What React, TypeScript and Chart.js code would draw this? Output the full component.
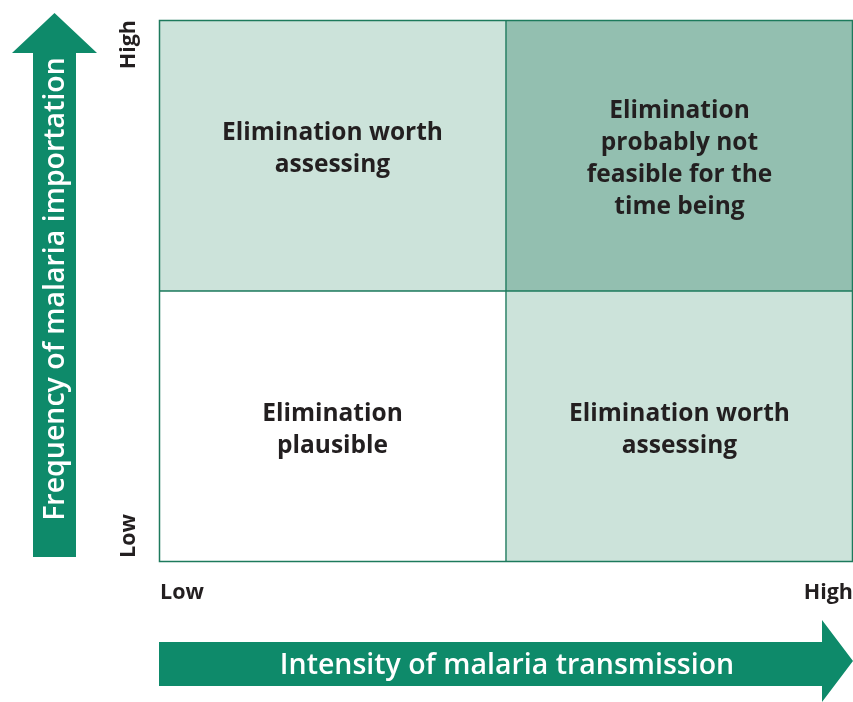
import React, { useEffect, useRef } from "react";
import { Chart, registerables } from "chart.js";

Chart.register(...registerables);

// Data
const transmissionLevels = ["Low", "High"]; // x categories (intensity of malaria transmission)
const importationLevels = ["Low", "High"]; // y levels (frequency of malaria importation)
const lowImportationRow = [1, 1];
const highImportationRow = [1, 1];
const lowRowColors = ["#ffffff", "#cce3da"];
const highRowColors = ["#cce3da", "#93bfb0"];
const lowRowLabels = [
  ["Elimination", "plausible"],
  ["Elimination worth", "assessing"],
];
const highRowLabels = [
  ["Elimination worth", "assessing"],
  ["Elimination", "probably not", "feasible for the", "time being"],
];
const xAxisTitle = "Intensity of malaria transmission";
const yAxisTitle = "Frequency of malaria importation";

const ARROW = "#0e8a6a";
const BORDER = "#1d7a5c";
const TEXT = "#231f20";
const FONT = "'Open Sans', 'DejaVu Sans', sans-serif";

const overlayPlugin = {
  id: "matrixOverlay",
  afterDatasetsDraw(chart: any) {
    const ctx = chart.ctx;
    const xs = chart.scales.x;
    const ys = chart.scales.y;
    const area = chart.chartArea;
    ctx.save();
    // quadrant labels
    ctx.fillStyle = TEXT;
    ctx.font = `700 24.5px ${FONT}`;
    ctx.textAlign = "center";
    ctx.textBaseline = "middle";
    const lh = 32;
    const rows = [
      { labels: lowRowLabels, y: ys.getPixelForValue(0.5) },
      { labels: highRowLabels, y: ys.getPixelForValue(1.5) },
    ];
    rows.forEach((row, ri) => {
      row.labels.forEach((lines, ci) => {
        const cx = xs.getPixelForValue(ci);
        const offset = (ri === 1 && ci === 0 ? -10 : 0) + 4;
        const start = row.y + offset - ((lines.length - 1) * lh) / 2;
        lines.forEach((ln, li) => ctx.fillText(ln, cx, start + li * lh));
      });
    });

    // x level labels
    ctx.font = `700 21.5px ${FONT}`;
    ctx.textBaseline = "middle";
    ctx.textAlign = "left";
    ctx.fillText(transmissionLevels[0], area.left + 1, area.bottom + 31);
    ctx.textAlign = "right";
    ctx.fillText(transmissionLevels[1], area.right, area.bottom + 31);

    // y level labels (rotated)
    ctx.save();
    ctx.translate(area.left - 30, area.bottom - 4);
    ctx.rotate(-Math.PI / 2);
    ctx.textAlign = "left";
    ctx.fillText(importationLevels[0], 0, 0);
    ctx.restore();
    ctx.save();
    ctx.translate(area.left - 30, area.top);
    ctx.rotate(-Math.PI / 2);
    ctx.textAlign = "right";
    ctx.fillText(importationLevels[1], 0, 0);
    ctx.restore();

    // vertical arrow
    ctx.fillStyle = ARROW;
    const vx0 = 33, vx1 = 76, vHeadL = 12, vHeadR = 97, vTip = 13, vBase = 53, vBottom = 557;
    ctx.beginPath();
    ctx.moveTo(vx0, vBottom);
    ctx.lineTo(vx0, vBase);
    ctx.lineTo(vHeadL, vBase);
    ctx.lineTo((vHeadL + vHeadR) / 2, vTip);
    ctx.lineTo(vHeadR, vBase);
    ctx.lineTo(vx1, vBase);
    ctx.lineTo(vx1, vBottom);
    ctx.closePath();
    ctx.fill();

    // horizontal arrow
    const hy0 = 642, hy1 = 686, hLeft = 159, hBase = 822, hTop = 620, hBot = 702, hTip = 853;
    ctx.beginPath();
    ctx.moveTo(hLeft, hy0);
    ctx.lineTo(hBase, hy0);
    ctx.lineTo(hBase, hTop);
    ctx.lineTo(hTip, (hTop + hBot) / 2);
    ctx.lineTo(hBase, hBot);
    ctx.lineTo(hBase, hy1);
    ctx.lineTo(hLeft, hy1);
    ctx.closePath();
    ctx.fill();

    // arrow texts
    ctx.fillStyle = "#ffffff";
    ctx.font = `600 28.5px ${FONT}`;
    ctx.textAlign = "center";
    ctx.textBaseline = "middle";
    ctx.fillText(xAxisTitle, 507, (hy0 + hy1) / 2 + 2);
    ctx.save();
    ctx.translate((vx0 + vx1) / 2 + 1, 289);
    ctx.rotate(-Math.PI / 2);
    ctx.fillText(yAxisTitle, 0, 0);
    ctx.restore();

    // outer border
    ctx.strokeStyle = BORDER;
    ctx.lineWidth = 1.5;
    ctx.strokeRect(area.left + 0.5, area.top + 0.5, area.right - area.left - 1, area.bottom - area.top - 1);
    ctx.restore();
  },
};

export default function App() {
  const ref = useRef<HTMLCanvasElement | null>(null);
  useEffect(() => {
    if (!ref.current) return;
    const chart = new Chart(ref.current, {
      type: "bar",
      data: {
        labels: transmissionLevels,
        datasets: [
          {
            label: "Low importation",
            data: lowImportationRow,
            backgroundColor: lowRowColors,
            borderColor: BORDER,
            borderWidth: 1,
            borderSkipped: false,
          },
          {
            label: "High importation",
            data: highImportationRow,
            backgroundColor: highRowColors,
            borderColor: BORDER,
            borderWidth: 1,
            borderSkipped: false,
          },
        ],
      },
      options: {
        animation: false,
        responsive: true,
        maintainAspectRatio: false,
        layout: { padding: { left: 159, right: 0, top: 20, bottom: 140 } },
        datasets: { bar: { barPercentage: 1, categoryPercentage: 1 } },
        scales: {
          x: { display: false, stacked: true, offset: true },
          y: { display: false, stacked: true, min: 0, max: 2 },
        },
        plugins: {
          legend: { display: false },
          tooltip: { enabled: false },
          title: { display: false },
        },
      },
      plugins: [overlayPlugin],
    });
    return () => chart.destroy();
  }, []);
  return (
    <div style={{ position: "fixed", left: 0, top: 0, width: 853, height: 702, background: "#fff" }}>
      <canvas ref={ref} />
    </div>
  );
}
